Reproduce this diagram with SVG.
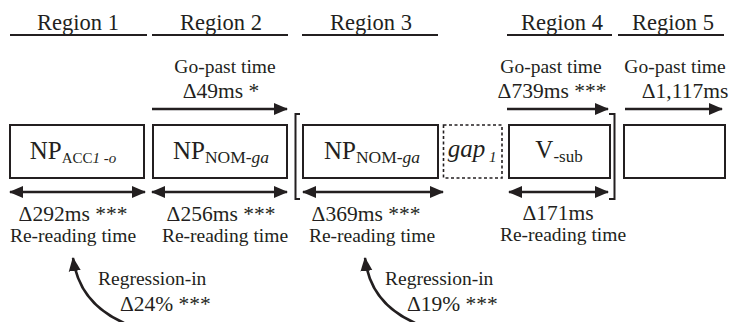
<svg xmlns="http://www.w3.org/2000/svg" width="731" height="322" viewBox="0 0 731 322">
<style>
text{font-family:"Liberation Serif","Times New Roman",serif;fill:#231f20}
.h{font-size:22.5px;text-anchor:middle}
.s{font-size:19.5px;text-anchor:middle}
.v{font-size:21.5px;text-anchor:middle}
.r{font-size:19.5px}
.rv{font-size:21.5px}
.np{font-size:25px;text-anchor:middle}
.box{fill:#fff;stroke:#231f20;stroke-width:2}
.gap{fill:none;stroke:#231f20;stroke-width:1.6;stroke-dasharray:3 2.5}
.ul{stroke:#231f20;stroke-width:2}
.ar{stroke:#231f20;stroke-width:2.5;fill:none}
.br{stroke:#231f20;stroke-width:2;fill:none}
</style>
<defs>
<marker id="ah" markerUnits="userSpaceOnUse" markerWidth="14" markerHeight="14" viewBox="0 0 14 14" refX="13" refY="7" orient="auto-start-reverse">
<path d="M0,1 L14,7 L0,13 Z" fill="#231f20"/>
</marker>
</defs>

<g id="headers">
<text class="h" x="78" y="30">Region 1</text>
<line class="ul" x1="10" y1="35" x2="147" y2="35"/>
<text class="h" x="221" y="30">Region 2</text>
<line class="ul" x1="152" y1="35" x2="288" y2="35"/>
<text class="h" x="371" y="30">Region 3</text>
<line class="ul" x1="302" y1="35" x2="438" y2="35"/>
<text class="h" x="562" y="30">Region 4</text>
<line class="ul" x1="507" y1="35" x2="612" y2="35"/>
<text class="h" x="673" y="30">Region 5</text>
<line class="ul" x1="618" y1="35" x2="724" y2="35"/>
</g>

<g id="node-r1">
<rect class="box" x="10" y="125" width="134" height="53"/>
<text class="np" x="73" y="159">NP<tspan font-size="15" dy="4">ACC<tspan font-style="italic">1</tspan> -<tspan font-style="italic">o</tspan></tspan></text>
</g>
<g id="node-r2">
<rect class="box" x="153" y="125" width="134" height="53"/>
<text class="np" x="221" y="159">NP<tspan font-size="17.5" dy="4">NOM-<tspan font-style="italic">ga</tspan></tspan></text>
</g>
<g id="node-r3">
<rect class="box" x="303" y="125" width="135" height="53"/>
<text class="np" x="372" y="159">NP<tspan font-size="17.5" dy="4">NOM-<tspan font-style="italic">ga</tspan></tspan></text>
</g>
<g id="node-gap">
<rect class="gap" x="443.5" y="125" width="58.5" height="53"/>
<text class="np" x="472" y="157" font-style="italic">gap<tspan font-size="15" dy="5"> 1</tspan></text>
</g>
<g id="node-r4">
<rect class="box" x="509" y="125" width="101" height="53"/>
<text class="np" x="559" y="158">V<tspan font-size="17" dy="4">-sub</tspan></text>
</g>
<g id="node-r5">
<rect class="box" x="624" y="125" width="101" height="53"/>
</g>

<g id="connectors">
<path class="br" d="M300,114 H295.5 V199 H300"/>
<path class="br" d="M609,114 H614.5 V199 H609"/>
<line class="ar" x1="152" y1="109" x2="287" y2="109" marker-end="url(#ah)"/>
<line class="ar" x1="507" y1="109" x2="608" y2="109" marker-end="url(#ah)"/>
<line class="ar" x1="625" y1="109" x2="722" y2="109" marker-end="url(#ah)"/>
<line class="ar" x1="10" y1="192" x2="145" y2="192" marker-start="url(#ah)" marker-end="url(#ah)"/>
<line class="ar" x1="152" y1="192" x2="287" y2="192" marker-start="url(#ah)" marker-end="url(#ah)"/>
<line class="ar" x1="303" y1="192" x2="443" y2="192" marker-start="url(#ah)" marker-end="url(#ah)"/>
<line class="ar" x1="509" y1="192" x2="608" y2="192" marker-start="url(#ah)" marker-end="url(#ah)"/>
<path class="ar" d="M124,323 Q79,303 73,258" marker-end="url(#ah)"/>
<path class="ar" d="M415,323 Q370,303 365,258" marker-end="url(#ah)"/>
</g>

<g id="labels">
<text class="s" x="225" y="73">Go-past time</text>
<text class="v" x="221" y="98">Δ49ms *</text>
<text class="s" x="551" y="73">Go-past time</text>
<text class="v" x="552" y="98">Δ739ms ***</text>
<text class="s" x="675" y="73">Go-past time</text>
<text class="v" x="685" y="98">Δ1,117ms</text>

<text class="v" x="73" y="221">Δ292ms ***</text>
<text class="s" x="73" y="242">Re-reading time</text>
<text class="v" x="221" y="221">Δ256ms ***</text>
<text class="s" x="225" y="242">Re-reading time</text>
<text class="v" x="366" y="221">Δ369ms ***</text>
<text class="s" x="372" y="242">Re-reading time</text>
<text class="v" x="558" y="220">Δ171ms</text>
<text class="s" x="563" y="241">Re-reading time</text>

<text class="r" x="98" y="285">Regression-in</text>
<text class="rv" x="120" y="311">Δ24% ***</text>
<text class="r" x="385" y="285">Regression-in</text>
<text class="rv" x="407" y="311">Δ19% ***</text>
</g>
</svg>
